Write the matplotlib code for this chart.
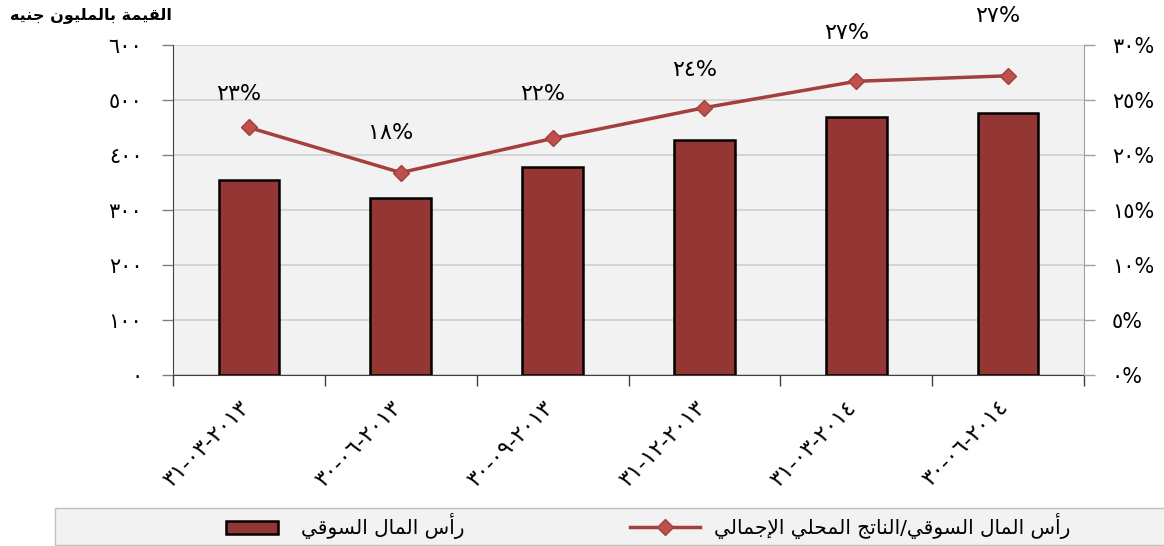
import matplotlib
matplotlib.use('Agg')
import matplotlib.pyplot as plt
import matplotlib.transforms as mtransforms
import numpy as np
from matplotlib.lines import Line2D
from matplotlib.patches import Patch, Rectangle
from matplotlib.legend_handler import HandlerPatch

# data
dates = ['٣١-٠٣-٢٠١٣', '٣٠-٠٦-٢٠١٣', '٣٠-٠٩-٢٠١٣',
         '٣١-١٢-٢٠١٣', '٣١-٠٣-٢٠١٤', '٣٠-٠٦-٢٠١٤']
market_cap = [355, 322, 378, 427, 469, 476]          # million EGP
cap_to_gdp = [22.5, 18.4, 21.5, 24.3, 26.7, 27.2]    # percent
cap_to_gdp_labels = ['٢٣%', '١٨%', '٢٢%', '٢٤%', '٢٧%', '٢٧%']
left_ticks = [0, 100, 200, 300, 400, 500, 600]
left_ticklabels = ['٠', '١٠٠', '٢٠٠', '٣٠٠', '٤٠٠', '٥٠٠', '٦٠٠']
right_ticks = [0, 5, 10, 15, 20, 25, 30]
right_ticklabels = ['٠%', '٥%', '١٠%', '١٥%', '٢٠%', '٢٥%', '٣٠%']
y_title = 'القيمة بالمليون جنيه'
bar_name = 'رأس المال السوقي'
line_name = 'رأس المال السوقي/الناتج المحلي الإجمالي'

# matplotlib has no arabic shaping, so map letters to presentation forms
FORMS = {  # isolated, final, initial, medial
    'ا': ('\uFE8D', '\uFE8E', None, None),
    'أ': ('\uFE83', '\uFE84', None, None),
    'إ': ('\uFE87', '\uFE88', None, None),
    'ب': ('\uFE8F', '\uFE90', '\uFE91', '\uFE92'),
    'ة': ('\uFE93', '\uFE94', None, None),
    'ت': ('\uFE95', '\uFE96', '\uFE97', '\uFE98'),
    'ج': ('\uFE9D', '\uFE9E', '\uFE9F', '\uFEA0'),
    'ح': ('\uFEA1', '\uFEA2', '\uFEA3', '\uFEA4'),
    'ر': ('\uFEAD', '\uFEAE', None, None),
    'س': ('\uFEB1', '\uFEB2', '\uFEB3', '\uFEB4'),
    'ق': ('\uFED5', '\uFED6', '\uFED7', '\uFED8'),
    'ل': ('\uFEDD', '\uFEDE', '\uFEDF', '\uFEE0'),
    'م': ('\uFEE1', '\uFEE2', '\uFEE3', '\uFEE4'),
    'ن': ('\uFEE5', '\uFEE6', '\uFEE7', '\uFEE8'),
    'ه': ('\uFEE9', '\uFEEA', '\uFEEB', '\uFEEC'),
    'و': ('\uFEED', '\uFEEE', None, None),
    'ي': ('\uFEF1', '\uFEF2', '\uFEF3', '\uFEF4'),
}
LAM_ALEF = {'ا': ('\uFEFB', '\uFEFC'), 'أ': ('\uFEF7', '\uFEF8'),
            'إ': ('\uFEF9', '\uFEFA')}


def shape(text):
    toks = []
    i = 0
    while i < len(text):
        if text[i] == 'ل' and i + 1 < len(text) and text[i + 1] in LAM_ALEF:
            toks.append(('LA', text[i + 1]))
            i += 2
        else:
            toks.append(text[i])
            i += 1

    def is_ar(t):
        return isinstance(t, tuple) or t in FORMS

    def dual(t):
        return (not isinstance(t, tuple)) and t in FORMS and FORMS[t][2] is not None

    out = []
    for k, t in enumerate(toks):
        if not is_ar(t):
            out.append(t)
            continue
        prev = k > 0 and dual(toks[k - 1])
        nxt = dual(t) and k + 1 < len(toks) and is_ar(toks[k + 1])
        if isinstance(t, tuple):
            out.append(LAM_ALEF[t[1]][1 if prev else 0])
        elif prev and nxt:
            out.append(FORMS[t][3])
        elif prev:
            out.append(FORMS[t][1])
        elif nxt:
            out.append(FORMS[t][2])
        else:
            out.append(FORMS[t][0])
    return ''.join(out[::-1])


plt.rcParams['font.family'] = ['DejaVu Sans']

bar_color = '#943634'
line_color = '#A33F3C'
marker_color = '#C0504D'

fig = plt.figure(figsize=(11.64, 5.46), dpi=100)
ax = fig.add_axes([0.1486, 0.3132, 0.7827, 0.6044])
x = np.arange(len(dates))

ax.set_facecolor('#F2F2F2')
ax.bar(x, market_cap, width=0.4, color=bar_color, edgecolor='black',
       linewidth=1.8, zorder=3)
ax.set_xlim(-0.5, len(dates) - 0.5)
ax.set_ylim(0, 600)
ax.set_yticks(left_ticks)
ax.set_yticklabels(left_ticklabels, fontsize=15)
ax.yaxis.grid(True, color='#CFCFCF', linewidth=1.2, zorder=0)
ax.set_axisbelow(True)
ax.tick_params(axis='y', length=8, width=1, color='#808080', pad=14)

# category ticks sit between the bars, labels at the bar centres
ax.set_xticks(np.arange(len(dates) + 1) - 0.5)
ax.set_xticklabels([])
ax.tick_params(axis='x', length=8, width=1, color='#404040')
ax.set_xticks(x, minor=True)
ax.set_xticklabels(dates, minor=True, rotation=45, ha='right', va='top',
                   rotation_mode='anchor', fontsize=16)
ax.tick_params(axis='x', which='minor', length=0, pad=16)
shift = mtransforms.ScaledTranslation(-10 / 100, 0, fig.dpi_scale_trans)
for lab in ax.get_xticklabels(minor=True):
    lab.set_transform(lab.get_transform() + shift)

ax.spines['top'].set_visible(False)
ax.spines['right'].set_visible(False)
ax.spines['left'].set_color('#404040')
ax.spines['bottom'].set_color('#404040')

ax2 = ax.twinx()
ax2.plot(x, cap_to_gdp, color=line_color, linewidth=2.5, marker='D',
         markersize=8, markerfacecolor=marker_color,
         markeredgecolor='#A0403D', zorder=4)
ax2.set_ylim(0, 30)
ax2.set_yticks(right_ticks)
ax2.set_yticklabels(right_ticklabels, fontsize=15)
ax2.tick_params(axis='y', length=8, width=1, color='#A0A0A0', pad=12)
for s in ['top', 'left', 'bottom']:
    ax2.spines[s].set_visible(False)
ax2.spines['right'].set_color('#A0A0A0')

label_offsets = [33, 40, 44, 38, 48, 60]
for xi, yi, lab, off in zip(x, cap_to_gdp, cap_to_gdp_labels, label_offsets):
    ax2.annotate(lab, (xi, yi), xytext=(-10, off), textcoords='offset pixels',
                 ha='center', va='center', fontsize=16, annotation_clip=False)

fig.text(0.009, 0.972, shape(y_title), fontsize=11.5, fontweight='bold',
         ha='left', va='center')

# legend panel
fig.add_artist(Rectangle((55 / 1164, 1 / 546), 1.2, 37 / 546,
                         transform=fig.transFigure, facecolor='#F2F2F2',
                         edgecolor='#BFBFBF', linewidth=1, zorder=0))


def narrow_box(legend, orig_handle, xdescent, ydescent, width, height, fontsize):
    return Rectangle((-xdescent + width * 0.13, -ydescent + height * 0.05),
                     width * 0.74, height * 0.9)


handles = [Patch(facecolor=bar_color, edgecolor='black', linewidth=1.8),
           Line2D([0], [0], color=line_color, linewidth=2.5, marker='D',
                  markersize=8, markerfacecolor=marker_color,
                  markeredgecolor='#A0403D')]
leg = fig.legend(handles, [shape(bar_name), shape(line_name)], ncol=2,
                 loc='center', bbox_to_anchor=(0.553, 0.036),
                 prop={'size': 14.5},
                 frameon=False, handlelength=3.48, columnspacing=8.2,
                 handletextpad=0.7,
                 handler_map={Patch: HandlerPatch(patch_func=narrow_box)})

fig.savefig('out.png', dpi=100)
